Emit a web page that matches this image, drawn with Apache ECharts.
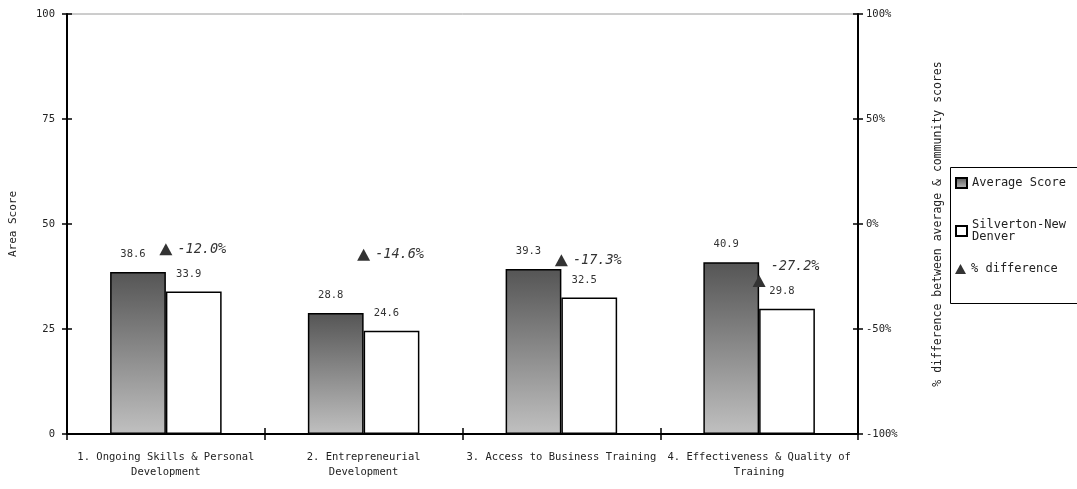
<!DOCTYPE html>
<html>
<head>
<meta charset="utf-8">
<script src="https://cdn.jsdelivr.net/npm/echarts@6/dist/echarts.min.js"></script>
<style>
  html, body { margin: 0; padding: 0; background: #fff; }
  #chart { width: 1077px; height: 489px; }
</style>
</head>
<body>
<div id="chart"></div>
<script>
// Area scores by training category, with the community's % difference from the average
const categories = [
  '1. Ongoing Skills & Personal\nDevelopment',
  '2. Entrepreneurial\nDevelopment',
  '3. Access to Business Training',
  '4. Effectiveness & Quality of\nTraining'
];
const averageScore = [38.6, 28.8, 39.3, 40.9];
const communityScore = [33.9, 24.6, 32.5, 29.8];
const percentDifference = [-12.0, -14.6, -17.3, -27.2];
const scoreTicks = [0, 25, 50, 75, 100];
const percentTicks = [-100, -50, 0, 50, 100];

const FONT = 'DejaVu Sans Mono';
const TEXT = '#222';

const chart = echarts.init(document.getElementById('chart'), null, { renderer: 'canvas' });

const baseY = {
  type: 'value',
  min: scoreTicks[0],
  max: scoreTicks[scoreTicks.length - 1],
  interval: scoreTicks[1] - scoreTicks[0]
};
const pctY = {
  type: 'value',
  min: percentTicks[0],
  max: percentTicks[percentTicks.length - 1],
  interval: percentTicks[1] - percentTicks[0]
};
const tickStyle = { color: '#000', width: 1.5 };

// the last difference label sits higher so it clears the bar value below it
const diffData = percentDifference.map(function (v, i) {
  return i === percentDifference.length - 1
    ? { value: v, label: { offset: [0, -15] } }
    : v;
});

const legendText = { fontFamily: FONT, fontSize: 12, color: TEXT, lineHeight: 12 };
function legendAt(top, name, icon) {
  return {
    left: 950, top: top,
    itemWidth: 11, itemHeight: 10,
    textStyle: legendText,
    formatter: function (n) {
      return n === 'Silverton-New Denver' ? 'Silverton-New\nDenver' : n;
    },
    data: [{ name: name, icon: icon }]
  };
}

chart.setOption({
  animation: false,
  backgroundColor: '#fff',
  textStyle: { fontFamily: FONT },
  grid: {
    left: 64, right: 219, top: 14, bottom: 55,
    show: true, borderColor: '#9a9a9a', borderWidth: 1
  },
  legend: [
    legendAt(172, 'Average Score', 'rect'),
    legendAt(214, 'Silverton-New Denver', 'rect'),
    legendAt(258, '% difference', 'triangle')
  ],
  graphic: [{
    type: 'rect',
    shape: { x: 950.5, y: 167.5, width: 140, height: 136 },
    style: { fill: 'none', stroke: '#000', lineWidth: 1 },
    z: 0
  }],
  xAxis: [{
    type: 'category',
    data: categories,
    position: 'bottom',
    axisLine: { onZero: false, lineStyle: { color: '#000', width: 2 } },
    axisTick: { show: true, interval: 0, length: 6, lineStyle: tickStyle },
    axisLabel: {
      interval: 0, margin: 16, color: TEXT,
      fontFamily: FONT, fontSize: 10.5, lineHeight: 15
    }
  }, {
    type: 'category',
    data: categories,
    position: 'bottom',
    axisLine: { show: false, onZero: false },
    axisTick: { show: true, interval: 0, inside: true, length: 6, lineStyle: tickStyle },
    axisLabel: { show: false, interval: 0 }
  }],
  yAxis: [Object.assign({}, baseY, {
    position: 'left',
    name: 'Area Score',
    nameLocation: 'middle',
    nameRotate: 90,
    nameGap: 48,
    nameTextStyle: { fontFamily: FONT, fontSize: 11, color: TEXT },
    axisLine: { show: true, lineStyle: { color: '#000', width: 2 } },
    axisTick: { show: true, length: 5, lineStyle: tickStyle },
    axisLabel: { margin: 12, color: TEXT, fontFamily: FONT, fontSize: 10.5 },
    splitLine: { show: false }
  }), Object.assign({}, pctY, {
    position: 'right',
    name: '% difference between average & community scores',
    nameLocation: 'middle',
    nameRotate: 90,
    nameGap: 74,
    nameTextStyle: { fontFamily: FONT, fontSize: 11.5, color: TEXT },
    axisLine: { show: true, lineStyle: { color: '#000', width: 2 } },
    axisTick: { show: true, length: 5, lineStyle: tickStyle },
    axisLabel: { margin: 8, color: TEXT, fontFamily: FONT, fontSize: 10.5, formatter: '{value}%' },
    splitLine: { show: false }
  }), Object.assign({}, baseY, {
    position: 'left',
    axisLine: { show: false },
    axisTick: { show: true, inside: true, length: 5, lineStyle: tickStyle },
    axisLabel: { show: false },
    splitLine: { show: false }
  }), Object.assign({}, pctY, {
    position: 'right',
    axisLine: { show: false },
    axisTick: { show: true, inside: true, length: 5, lineStyle: tickStyle },
    axisLabel: { show: false },
    splitLine: { show: false }
  })],
  series: [{
    name: 'Average Score',
    type: 'bar',
    xAxisIndex: 0, yAxisIndex: 0,
    data: averageScore,
    barWidth: '28.2%',
    barGap: '0%',
    itemStyle: {
      color: new echarts.graphic.LinearGradient(0, 0, 0, 1, [
        { offset: 0, color: '#555555' },
        { offset: 1, color: '#c0c0c0' }
      ]),
      borderColor: '#000',
      borderWidth: 1.5
    },
    label: {
      show: true, position: 'top', distance: 12, offset: [-5, 0],
      color: '#333', fontFamily: FONT, fontSize: 10.5,
      formatter: function (p) { return p.value.toFixed(1); }
    },
    z: 2
  }, {
    name: 'Silverton-New Denver',
    type: 'bar',
    xAxisIndex: 0, yAxisIndex: 0,
    data: communityScore,
    barWidth: '28.2%',
    barGap: '0%',
    itemStyle: { color: '#fff', borderColor: '#000', borderWidth: 1.5 },
    label: {
      show: true, position: 'top', distance: 12, offset: [-5, 0],
      color: '#333', fontFamily: FONT, fontSize: 10.5,
      formatter: function (p) { return p.value.toFixed(1); }
    },
    z: 2
  }, {
    name: '% difference',
    type: 'line',
    xAxisIndex: 0, yAxisIndex: 1,
    data: diffData,
    symbol: 'triangle',
    symbolSize: [13, 12],
    itemStyle: { color: '#333' },
    lineStyle: { width: 0, opacity: 0 },
    label: {
      show: true, position: 'right', distance: 5,
      color: '#333', fontFamily: FONT, fontSize: 13.5, fontStyle: 'italic',
      formatter: function (p) { return p.value.toFixed(1) + '%'; }
    },
    z: 5
  }]
});
</script>
</body>
</html>
